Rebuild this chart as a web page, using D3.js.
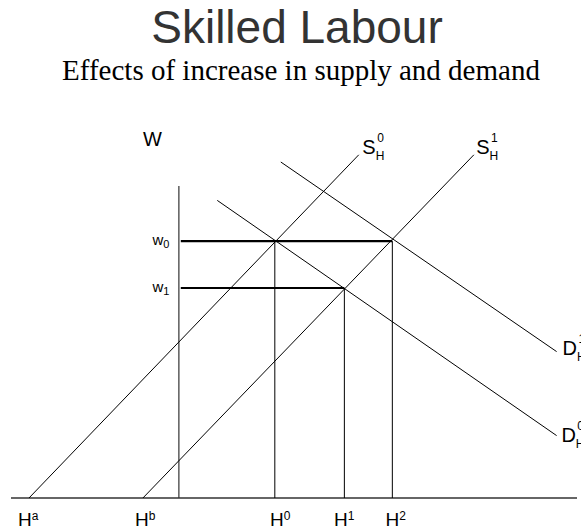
<!DOCTYPE html>
<html>
<head>
<meta charset="utf-8">
<script src="https://cdn.jsdelivr.net/npm/d3@7"></script>
<style>
    body { margin: 0; background: #fff; }
    svg { display: block; }
</style>
</head>
<body>
<svg id="container"></svg>
<script>
var WIDTH = 581;
var HEIGHT = 528;

// labour units along the bottom, wage units up the side
var supplyCurves = [
    { name: 'S', sub: 'H', sup: '0', points: [[-62.5, 0], [75, 143]], label: [76.5, 143.3] },
    { name: 'S', sub: 'H', sup: '1', points: [[-15, 0], [123, 143]], label: [124, 143.3] }
];
var demandCurves = [
    { name: 'D', sub: 'H', sup: '0', points: [[16, 124], [157.5, 26]], label: [159.5, 23.5] },
    { name: 'D', sub: 'H', sup: '1', points: [[42.5, 140], [157.5, 61]], label: [160, 59.6] }
];
var wages = [
    { name: 'w', sub: '0', value: 107, to: 89 },
    { name: 'w', sub: '1', value: 87.5, to: 69 }
];
var quantities = [
    { name: 'H', sup: '0', value: 40, wage: 107, labelX: 38 },
    { name: 'H', sup: '1', value: 69, wage: 87.5, labelX: 64.7 },
    { name: 'H', sup: '2', value: 89, wage: 107, labelX: 86.2 }
];
var intercepts = [
    { name: 'H', sup: 'a', labelX: -67.1 },
    { name: 'H', sup: 'b', labelX: -18.3 }
];
var xDomain = [-70, 166];
var yDomain = [0, 130];

var xScale = d3.scaleLinear().domain(xDomain).range([11, 577]);
var yScale = d3.scaleLinear().domain(yDomain).range([498, 186]);
var line = d3.line()
    .x(function(d){ return xScale(d[0]); })
    .y(function(d){ return yScale(d[1]); });

var svg = d3.select('#container')
    .attr('width', WIDTH)
    .attr('height', HEIGHT);

svg.append('text')
    .attr('x', 297).attr('y', 43)
    .attr('text-anchor', 'middle')
    .style('font-family', '"Liberation Sans", Arial, sans-serif')
    .style('font-size', '46px')
    .style('fill', '#333')
    .text('Skilled Labour');

svg.append('text')
    .attr('x', 301).attr('y', 80)
    .attr('text-anchor', 'middle')
    .style('font-family', '"Liberation Serif", "Times New Roman", serif')
    .style('font-size', '29px')
    .style('fill', '#000')
    .text('Effects of increase in supply and demand');

var plot = svg.append('g')
    .style('font-family', '"Liberation Sans", Arial, sans-serif')
    .style('fill', '#000');

// axes
plot.append('path')
    .attr('d', line([[xDomain[0], 0], [xDomain[1], 0]]))
    .attr('stroke', '#333').attr('stroke-width', 1.4).attr('fill', 'none');
plot.append('path')
    .attr('d', line([[0, 0], [0, yDomain[1]]]))
    .attr('stroke', '#333').attr('stroke-width', 1.2).attr('fill', 'none');

plot.append('text')
    .attr('x', xScale(-15)).attr('y', yScale(146.5))
    .style('font-size', '20px')
    .text('W');

// curves
plot.selectAll('.curve')
    .data(supplyCurves.concat(demandCurves))
    .enter()
    .append('path')
    .attr('class', 'curve')
    .attr('d', function(d){ return line(d.points); })
    .attr('stroke', '#000').attr('stroke-width', 1).attr('fill', 'none');

// wage levels (thick)
plot.selectAll('.wage')
    .data(wages)
    .enter()
    .append('path')
    .attr('class', 'wage')
    .attr('d', function(d){ return line([[0.8, d.value], [d.to, d.value]]); })
    .attr('stroke', '#000').attr('stroke-width', 2.2).attr('fill', 'none');

// drop lines to the quantity axis
plot.selectAll('.drop')
    .data(quantities)
    .enter()
    .append('path')
    .attr('class', 'drop')
    .attr('d', function(d){ return line([[d.value, 0], [d.value, d.wage]]); })
    .attr('stroke', '#000').attr('stroke-width', 1).attr('fill', 'none');

var curveLabel = function(d){
    var g = plot.append('g');
    var main = g.append('text')
        .attr('x', xScale(d.label[0])).attr('y', yScale(d.label[1]))
        .style('font-size', '20px')
        .text(d.name);
    var w = main.node().getComputedTextLength();
    g.append('text')
        .attr('x', xScale(d.label[0]) + w).attr('y', yScale(d.label[1]) + 6)
        .style('font-size', '12px')
        .text(d.sub);
    g.append('text')
        .attr('x', xScale(d.label[0]) + w + 1.5).attr('y', yScale(d.label[1]) - 12)
        .style('font-size', '12px')
        .text(d.sup);
};
supplyCurves.forEach(curveLabel);
demandCurves.forEach(curveLabel);

wages.forEach(function(d){
    var g = plot.append('text')
        .attr('x', xScale(-11)).attr('y', yScale(d.value) + 4)
        .style('font-size', '15px');
    g.append('tspan').text(d.name);
    g.append('tspan').attr('dy', 3).style('font-size', '11px').text(d.sub);
});

quantities.concat(intercepts).forEach(function(d){
    var t = plot.append('text')
        .attr('x', xScale(d.labelX)).attr('y', yScale(-11.7))
        .style('font-size', '19px');
    t.append('tspan').text(d.name);
    t.append('tspan').attr('dy', -6).style('font-size', '12px').text(d.sup);
});
</script>
</body>
</html>
